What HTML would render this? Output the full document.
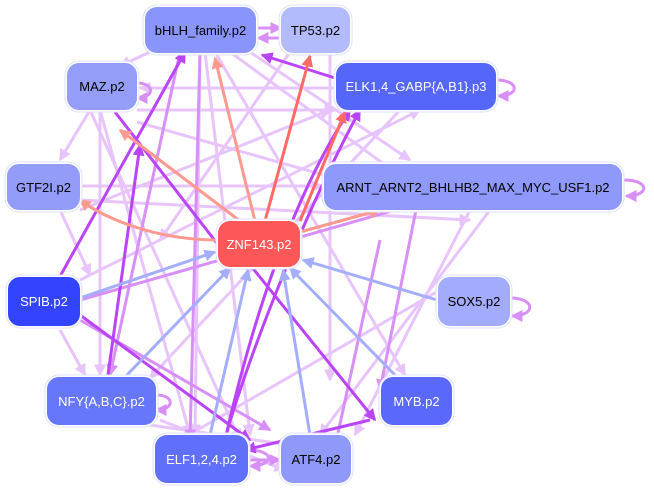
<!DOCTYPE html>
<html><head><meta charset="utf-8"><style>
body{margin:0;background:#fff;width:654px;height:489px;overflow:hidden}
svg{position:absolute;left:0;top:0}
.n{position:absolute;border-radius:12px;box-shadow:0 0 0 1.5px #fff,0 0 0 2.5px #dfe2fe;font-family:"Liberation Sans",sans-serif;font-size:13px;display:flex;align-items:center;justify-content:center;color:#000}
.w{color:#fff}
</style></head><body>
<svg width="654" height="489" viewBox="0 0 654 489">
<defs>
<marker id="a1" markerWidth="4" markerHeight="4" refX="3.5" refY="2" orient="auto" markerUnits="strokeWidth"><path d="M0,0L4,2L0,4z" fill="#e8c4fc"/></marker>
<marker id="a2" markerWidth="4" markerHeight="4" refX="3.5" refY="2" orient="auto" markerUnits="strokeWidth"><path d="M0,0L4,2L0,4z" fill="#d890f8"/></marker>
<marker id="a3" markerWidth="4" markerHeight="4" refX="3.5" refY="2" orient="auto" markerUnits="strokeWidth"><path d="M0,0L4,2L0,4z" fill="#bb44f8"/></marker>
<marker id="a4" markerWidth="4" markerHeight="4" refX="3.5" refY="2" orient="auto" markerUnits="strokeWidth"><path d="M0,0L4,2L0,4z" fill="#fe9a90"/></marker>
<marker id="a5" markerWidth="4" markerHeight="4" refX="3.5" refY="2" orient="auto" markerUnits="strokeWidth"><path d="M0,0L4,2L0,4z" fill="#fe6a66"/></marker>
<marker id="a6" markerWidth="4" markerHeight="4" refX="3.5" refY="2" orient="auto" markerUnits="strokeWidth"><path d="M0,0L4,2L0,4z" fill="#a4aefc"/></marker>
</defs>
<g fill="none" stroke-width="3">
<g stroke="#e8c4fc" marker-end="url(#a1)">
<path d="M137,110L335,110"/><path d="M80,186L322,186"/><path d="M80,210L330,110"/>
<path d="M137,122L430,205"/><path d="M80,200L470,220"/><path d="M290,52L160,240"/>
<path d="M215,52L405,375"/><path d="M230,52L440,205"/><path d="M90,110L60,160"/>
<path d="M60,210L90,275"/><path d="M90,110L240,440"/><path d="M205,52L250,435"/>
<path d="M200,52L195,435"/><path d="M470,210L355,435"/><path d="M490,210L320,435"/>
<path d="M400,110L150,378"/><path d="M440,290L180,440"/><path d="M100,110L100,375"/>
<path d="M60,330L85,375"/><path d="M330,52L330,380"/><path d="M150,425L290,445"/>
<path d="M160,420L285,470"/><path d="M335,88L140,88"/><path d="M150,52L120,66"/>
<path d="M250,52L410,160"/><path d="M100,110L190,435"/><path d="M80,280L420,110"/>
</g>
<g stroke="#d890f8" marker-end="url(#a2)">
<path d="M256,28L281,28"/><path d="M281,38L258,38"/><path d="M80,320L270,430"/>
<path d="M180,52L110,375"/><path d="M80,300L430,200"/><path d="M420,190L380,390"/>
<path d="M380,240L330,470"/><path d="M200,52L190,440"/>
<path d="M496,80C520,80 520,96 498,96"/><path d="M624,180C650,180 650,196 626,196"/>
<path d="M510,298C536,298 536,316 512,316"/><path d="M137,83C155,83 155,98 137,98"/>
<path d="M156,395C175,395 175,410 156,410"/><path d="M248,450C275,450 275,466 250,466"/>
<path d="M248,460L280,460"/>
</g>
<g stroke="#bb44f8" marker-end="url(#a3)">
<path d="M58,280L185,52"/><path d="M108,375L140,145"/><path d="M335,78L262,55"/>
<path d="M225,440C250,330 290,200 350,110"/><path d="M225,440C240,380 300,220 360,110"/>
<path d="M370,420L245,450"/><path d="M115,112L230,260"/><path d="M230,240L375,420"/>
<path d="M80,315L250,440"/>
</g>
<g stroke="#fe9a90" marker-end="url(#a4)">
<path d="M240,221L120,130"/><path d="M255,221L215,58"/><path d="M218,240C150,240 100,215 80,200"/>
<path d="M300,232L380,210"/>
</g>
<g stroke="#fe6a66" marker-end="url(#a5)"><path d="M265,221L310,56"/><path d="M300,221L345,112"/></g>
<g stroke="#a4aefc" marker-end="url(#a6)">
<path d="M80,298L215,252"/><path d="M437,300L303,260"/><path d="M125,377L230,268"/>
<path d="M210,435L248,270"/><path d="M310,435L283,270"/><path d="M395,375L290,268"/>
</g>
</g>
</svg>
<div class="n" style="left:145px;top:7px;width:111px;height:46px;background:#8a95fb">bHLH_family.p2</div>
<div class="n" style="left:281px;top:7px;width:69px;height:46px;background:#b4bbfd">TP53.p2</div>
<div class="n" style="left:67px;top:63px;width:70px;height:47px;background:#949ef9">MAZ.p2</div>
<div class="n w" style="left:336px;top:63px;width:160px;height:47px;background:#5566fb">ELK1,4_GABP{A,B1}.p3</div>
<div class="n" style="left:7px;top:164px;width:73px;height:46px;background:#949cf9">GTF2I.p2</div>
<div class="n" style="left:324px;top:164px;width:298px;height:46px;background:#8f99fb">ARNT_ARNT2_BHLHB2_MAX_MYC_USF1.p2</div>
<div class="n w" style="left:218px;top:221px;width:82px;height:46px;background:#fe5757">ZNF143.p2</div>
<div class="n w" style="left:8px;top:277px;width:72px;height:49px;background:#3344ff">SPIB.p2</div>
<div class="n" style="left:438px;top:277px;width:72px;height:49px;background:#a3abfd">SOX5.p2</div>
<div class="n w" style="left:47px;top:377px;width:109px;height:48px;background:#6677fb">NFY{A,B,C}.p2</div>
<div class="n w" style="left:381px;top:377px;width:71px;height:48px;background:#5a69fc">MYB.p2</div>
<div class="n w" style="left:155px;top:435px;width:93px;height:48px;background:#6070fc">ELF1,2,4.p2</div>
<div class="n" style="left:281px;top:435px;width:70px;height:48px;background:#8f99fa">ATF4.p2</div>
</body></html>
